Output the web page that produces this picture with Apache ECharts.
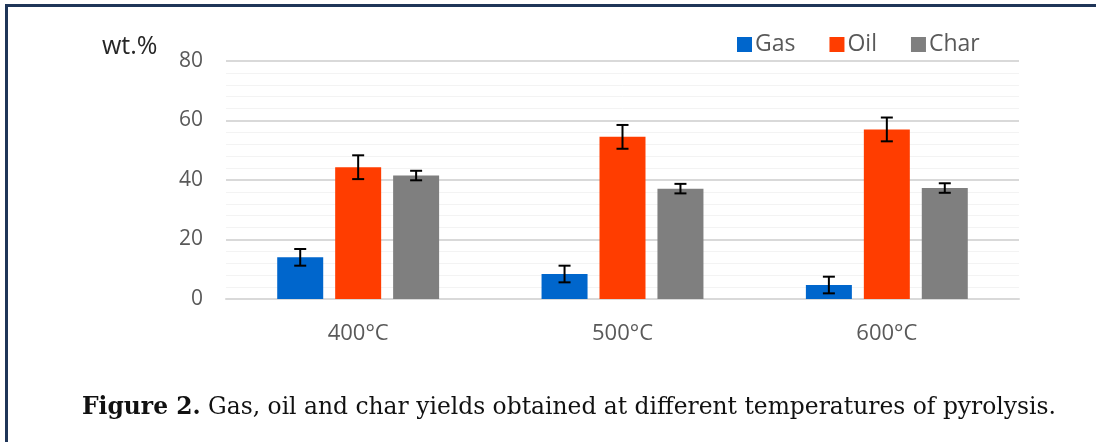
<!DOCTYPE html>
<html>
<head>
<meta charset="utf-8">
<script src="https://cdn.jsdelivr.net/npm/echarts@6/dist/echarts.min.js"></script>
<style>
html,body{margin:0;padding:0;background:#fff;}
#chart{width:1096px;height:442px;}
</style>
</head>
<body>
<div id="chart"></div>
<script>
const categories = ['400°C', '500°C', '600°C'];
const seriesNames = ['Gas', 'Oil', 'Char'];
const gasValues = [14.0, 8.4, 4.7];
const oilValues = [44.3, 54.5, 57.0];
const charValues = [41.5, 37.1, 37.3];
const gasErrors = [2.8, 2.8, 2.8];
const oilErrors = [4.0, 4.0, 4.0];
const charErrors = [1.6, 1.6, 1.6];
const yTicks = [0, 20, 40, 60, 80];
const yAxisName = 'wt.%';
const caption = 'Figure 2.';
const captionRest = ' Gas, oil and char yields obtained at different temperatures of pyrolysis.';

const colors = ['#0066cc', '#ff3d00', '#7f7f7f'];
const valueSets = [gasValues, oilValues, charValues];
const errorSets = [gasErrors, oilErrors, charErrors];
const BAR_PCT = 0.174, GAP = 0.26;
const SANS = 'Open Sans';

const chart = echarts.init(document.getElementById('chart'));

const barSeries = seriesNames.map((n, i) => ({
  name: n, type: 'bar', data: valueSets[i],
  barWidth: (BAR_PCT * 100) + '%', barGap: (GAP * 100) + '%',
  itemStyle: { color: colors[i] }
}));

const errSeries = seriesNames.map((n, i) => ({
  type: 'custom', name: n + ' err', z: 10,
  data: categories.map((c, k) => [k, valueSets[i][k] - errorSets[i][k], valueSets[i][k] + errorSets[i][k]]),
  encode: { x: 0, y: [1, 2] },
  renderItem: function (params, api) {
    const k = api.value(0);
    const lo = api.coord([k, api.value(1)]);
    const hi = api.coord([k, api.value(2)]);
    const band = api.size([1, 0])[0];
    const bw = band * BAR_PCT;
    const x = lo[0] + (i - 1) * bw * (1 + GAP);
    const cap = 6;
    const style = { stroke: '#000', lineWidth: 2, fill: null };
    return {
      type: 'group', children: [
        { type: 'line', shape: { x1: x, y1: lo[1], x2: x, y2: hi[1] }, style },
        { type: 'line', shape: { x1: x - cap, y1: lo[1], x2: x + cap, y2: lo[1] }, style },
        { type: 'line', shape: { x1: x - cap, y1: hi[1], x2: x + cap, y2: hi[1] }, style }
      ]
    };
  }
}));

chart.setOption({
  animation: false,
  color: colors,
  grid: { left: 226, right: 77, top: 61, bottom: 143 },
  legend: {
    data: seriesNames, left: 737, top: 33, padding: 0, icon: 'rect',
    itemWidth: 15, itemHeight: 15, itemGap: 34,
    textStyle: { fontFamily: SANS, fontSize: 23, color: '#595959', padding: [0, 0, 0, -2] }
  },
  xAxis: {
    type: 'category', data: categories,
    axisLine: { lineStyle: { color: '#d9d9d9', width: 2 } },
    axisTick: { show: false },
    axisLabel: { fontFamily: SANS, fontSize: 22, color: '#595959', margin: 24 }
  },
  yAxis: {
    type: 'value', min: 0, max: 80, interval: 20,
    axisLine: { show: false }, axisTick: { show: false },
    axisLabel: { fontFamily: SANS, fontSize: 21, color: '#595959', margin: 23,
      formatter: v => yTicks.includes(v) ? String(v) : '' },
    splitLine: { lineStyle: { color: '#d9d9d9', width: 2 } },
    minorTick: { show: false, splitNumber: 5 },
    minorSplitLine: { show: true, lineStyle: { color: '#f3f3f3', width: 1 } }
  },
  series: [...barSeries, ...errSeries],
  graphic: [
    { type: 'rect', shape: { x: 5, y: 4, width: 1091, height: 3 }, style: { fill: '#1f3558' } },
    { type: 'rect', shape: { x: 5, y: 4, width: 3, height: 438 }, style: { fill: '#1f3558' } },
    { type: 'text', left: 102, top: 34, style: { text: yAxisName, fontFamily: SANS, fontSize: 25, fill: '#262626' } },
    { type: 'text', left: 82, top: 396, style: {
        rich: { b: { fontFamily: 'DejaVu Serif', fontWeight: 'bold', fontSize: 23.4, fill: '#111' },
                n: { fontFamily: 'DejaVu Serif', fontSize: 23.4, fill: '#111' } },
        text: '{b|' + caption + '}{n|' + captionRest + '}' } }
  ]
});
</script>
</body>
</html>
